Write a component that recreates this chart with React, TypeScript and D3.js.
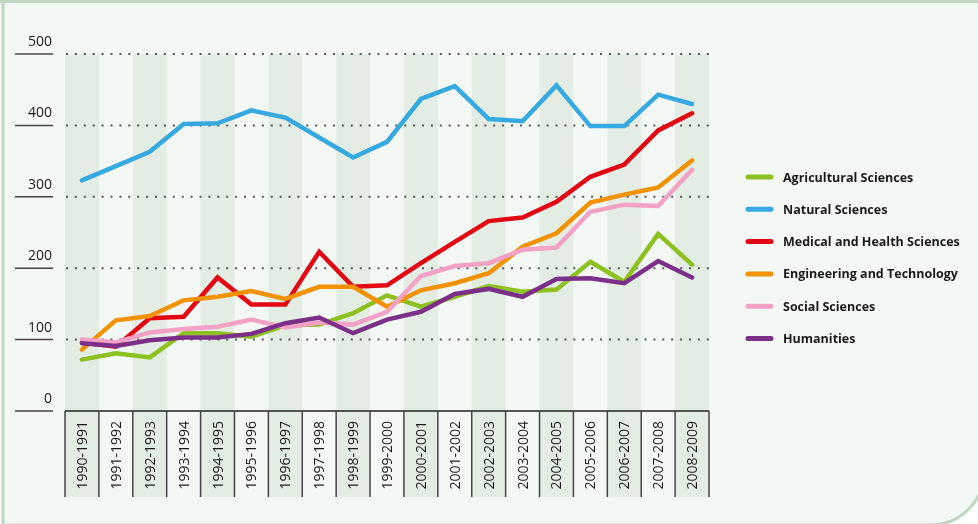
import React from "react";
import * as d3 from "d3";

const periods = [
  "1990-1991", "1991-1992", "1992-1993", "1993-1994", "1994-1995",
  "1995-1996", "1996-1997", "1997-1998", "1998-1999", "1999-2000",
  "2000-2001", "2001-2002", "2002-2003", "2003-2004", "2004-2005",
  "2005-2006", "2006-2007", "2007-2008", "2008-2009",
];

const yTicks = [0, 100, 200, 300, 400, 500];

const agricultural = [72, 81, 75, 109, 109, 104, 120, 121, 137, 162, 146, 160, 175, 167, 170, 209, 181, 248, 205];
const natural = [323, 343, 363, 402, 403, 421, 411, 383, 355, 377, 437, 455, 409, 406, 456, 399, 399, 443, 430];
const medical = [96, 90, 130, 132, 187, 149, 149, 223, 174, 176, 207, 237, 266, 271, 293, 328, 345, 393, 417];
const engineering = [86, 127, 133, 155, 160, 168, 157, 174, 174, 146, 169, 179, 193, 230, 249, 292, 303, 313, 351];
const social = [100, 96, 110, 115, 118, 128, 117, 124, 121, 139, 189, 203, 207, 226, 229, 279, 289, 287, 338];
const humanities = [95, 91, 99, 103, 103, 108, 123, 131, 109, 128, 139, 164, 171, 160, 185, 186, 179, 210, 187];

const seriesNames = [
  "Agricultural Sciences",
  "Natural Sciences",
  "Medical and Health Sciences",
  "Engineering and Technology",
  "Social Sciences",
  "Humanities",
];
const seriesValues = [agricultural, natural, medical, engineering, social, humanities];
const seriesColors = ["#8dc11f", "#36a9e1", "#e30613", "#f39200", "#f4a1c6", "#7c2f88"];

const font = "'Open Sans', 'DejaVu Sans', sans-serif";

export default function App() {
  const x = d3.scaleBand().domain(periods).range([65, 709]);
  const y = d3.scaleLinear().domain([0, 500]).range([411, 54]);
  const bw = x.bandwidth();

  const line = d3
    .line<number>()
    .x((d, i) => x(periods[i])! + bw / 2)
    .y((d) => y(d));

  // bottom-right corner of the frame is rounded
  const framePath = "M3,-5 L3,525 L930,525 A55,55 0 0 0 985,470 L985,-5 Z";

  return (
    <svg
      width={978}
      height={524}
      style={{ position: "fixed", left: 0, top: 0 }}
      fontFamily={font}
    >
      <path d={framePath} fill="#f4f8f5" stroke="#bcd6bf" strokeWidth={3} />
      <line x1={0} x2={985} y1={1.5} y2={1.5} stroke="#bcd6bf" strokeWidth={3} />

      {/* alternating column bands */}
      {periods.map((p, i) =>
        i % 2 === 0 ? (
          <rect key={p} x={x(p)} y={y(500)} width={bw} height={497 - y(500)} fill="#e3ede4" />
        ) : null
      )}

      {/* grid */}
      {yTicks.map((t) => (
        <g key={t}>
          <line x1={15} x2={53} y1={y(t)} y2={y(t)} stroke="#444" strokeWidth={1.5} />
          {t > 0 ? (
            <line
              x1={66}
              x2={709}
              y1={y(t)}
              y2={y(t)}
              stroke="#555"
              strokeWidth={2}
              strokeDasharray="2 6.9"
            />
          ) : null}
          <text x={52} y={y(t) - 8} textAnchor="end" fontSize={14} fill="#1a1a1a">
            {t}
          </text>
        </g>
      ))}

      {/* x axis */}
      <line x1={65} x2={709} y1={y(0)} y2={y(0)} stroke="#222" strokeWidth={1.5} />
      {periods.concat([""]).map((p, i) => {
        const xx = i < periods.length ? x(p)! : 709;
        return (
          <line key={"s" + i} x1={xx} x2={xx} y1={y(0)} y2={497} stroke="#444" strokeWidth={1.5} />
        );
      })}
      {periods.map((p) => {
        const cx = x(p)! + bw / 2;
        return (
          <text
            key={"l" + p}
            transform={`translate(${cx + 5},421) rotate(-90)`}
            textAnchor="end"
            fontSize={14}
            fill="#1a1a1a"
          >
            {p}
          </text>
        );
      })}

      {/* series */}
      {seriesValues.map((vals, k) => (
        <path
          key={seriesNames[k]}
          d={line(vals)!}
          fill="none"
          stroke={seriesColors[k]}
          strokeWidth={4.5}
          strokeLinejoin="miter"
          strokeLinecap="round"
        />
      ))}

      {/* legend */}
      {seriesNames.map((n, k) => {
        const ly = 177 + k * 32.3;
        return (
          <g key={"lg" + n}>
            <line x1={748} x2={771} y1={ly} y2={ly} stroke={seriesColors[k]} strokeWidth={5} strokeLinecap="round" />
            <text x={783} y={ly + 4.5} fontSize={12.5} fontWeight="bold" fill="#1a1a1a">
              {n}
            </text>
          </g>
        );
      })}
    </svg>
  );
}
